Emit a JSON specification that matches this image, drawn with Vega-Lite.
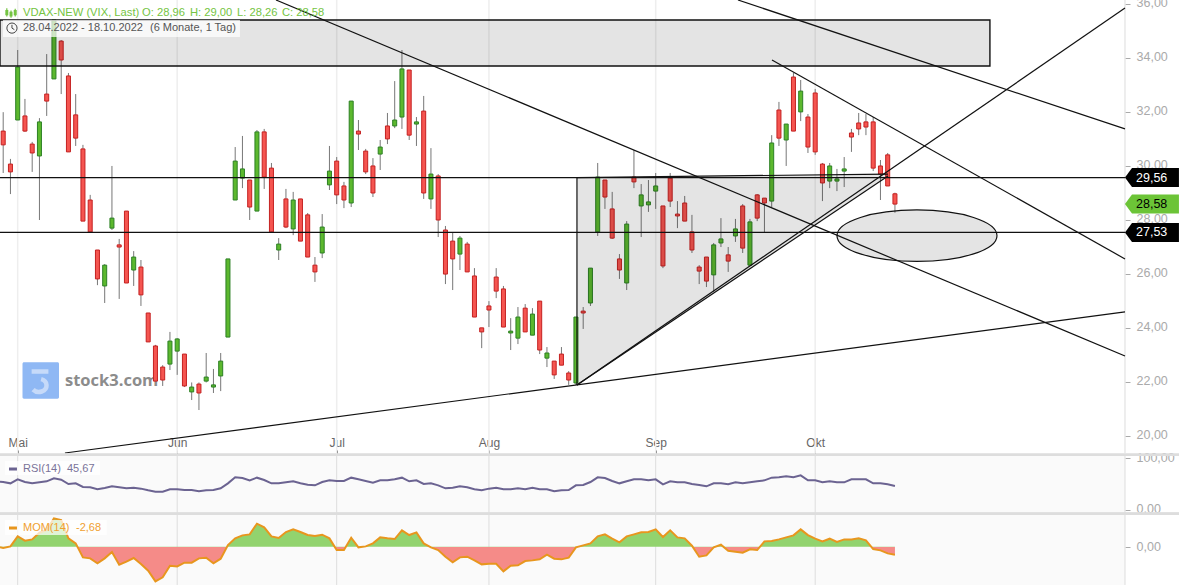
{"$schema":"https://vega.github.io/schema/vega-lite/v6.json","width":1179,"height":585,"padding":0,"autosize":{"type":"none"},"background":"white",
"config":{"view":{"stroke":null},"font":"Liberation Sans","axis":{"title":null},"scale":{"continuousPadding":0}},
"datasets":{
"candles":[
{"t":0,"o":31.28,"h":31.98,"l":29.73,"c":30.77},{"t":1,"o":30.06,"h":30.25,"l":28.95,"c":29.77},{"t":2,"o":31.69,"h":34.28,"l":31.69,"c":33.65},{"t":3,"o":31.84,"h":32.47,"l":31.25,"c":31.28},{"t":4,"o":30.8,"h":30.88,"l":29.77,"c":30.47},{"t":5,"o":30.36,"h":31.76,"l":27.99,"c":31.62},{"t":6,"o":32.65,"h":34.13,"l":31.84,"c":32.39},{"t":7,"o":33.21,"h":35.39,"l":33.21,"c":35.39},{"t":8,"o":34.61,"h":34.65,"l":32.65,"c":33.91},{"t":9,"o":33.32,"h":33.43,"l":30.51,"c":30.51},
{"t":10,"o":31.88,"h":32.65,"l":30.73,"c":31.02},{"t":11,"o":30.62,"h":30.77,"l":27.95,"c":27.95},{"t":12,"o":28.73,"h":28.92,"l":27.55,"c":27.55},{"t":13,"o":26.88,"h":26.88,"l":25.58,"c":25.81},{"t":14,"o":25.55,"h":26.36,"l":24.92,"c":26.32},{"t":15,"o":27.69,"h":29.99,"l":27.62,"c":28.06},{"t":16,"o":27.07,"h":27.29,"l":25.07,"c":26.99},{"t":17,"o":28.32,"h":28.32,"l":25.66,"c":25.66},{"t":18,"o":26.14,"h":26.84,"l":25.55,"c":26.62},{"t":19,"o":26.25,"h":26.51,"l":24.81,"c":25.22},
{"t":20,"o":24.55,"h":24.55,"l":23.48,"c":23.48},{"t":21,"o":23.33,"h":23.37,"l":22.03,"c":22.03},{"t":22,"o":22.55,"h":22.62,"l":21.85,"c":22.07},{"t":23,"o":22.66,"h":23.85,"l":22.44,"c":23.51},{"t":24,"o":23.14,"h":23.62,"l":22.26,"c":23.59},{"t":25,"o":23.03,"h":23.03,"l":21.81,"c":21.85},{"t":26,"o":21.63,"h":21.98,"l":21.33,"c":21.81},{"t":27,"o":21.92,"h":21.98,"l":20.96,"c":21.59},{"t":28,"o":22.03,"h":23.07,"l":21.98,"c":22.18},{"t":29,"o":21.81,"h":22.48,"l":21.59,"c":21.89},
{"t":30,"o":22.22,"h":23.07,"l":21.66,"c":22.77},{"t":31,"o":23.66,"h":26.55,"l":23.66,"c":26.55},{"t":32,"o":28.73,"h":30.69,"l":28.73,"c":30.17},{"t":33,"o":29.54,"h":31.1,"l":29.17,"c":29.88},{"t":34,"o":29.47,"h":29.47,"l":27.99,"c":28.47},{"t":35,"o":28.32,"h":31.32,"l":28.32,"c":31.25},{"t":36,"o":31.25,"h":31.36,"l":29.14,"c":29.58},{"t":37,"o":29.91,"h":30.1,"l":27.51,"c":27.55},{"t":38,"o":26.88,"h":27.32,"l":26.51,"c":27.1},{"t":39,"o":28.77,"h":29.14,"l":27.69,"c":27.73},
{"t":40,"o":27.66,"h":29.03,"l":27.43,"c":28.73},{"t":41,"o":28.77,"h":28.77,"l":27.21,"c":27.21},{"t":42,"o":28.18,"h":28.25,"l":26.62,"c":26.62},{"t":43,"o":26.32,"h":26.62,"l":25.7,"c":26.07},{"t":44,"o":26.77,"h":28.21,"l":26.58,"c":27.73},{"t":45,"o":29.29,"h":30.73,"l":29.1,"c":29.8},{"t":46,"o":30.17,"h":30.32,"l":28.58,"c":28.92},{"t":47,"o":29.25,"h":29.4,"l":28.43,"c":28.73},{"t":48,"o":28.62,"h":32.39,"l":28.47,"c":32.39},{"t":49,"o":31.28,"h":31.69,"l":30.58,"c":31.17},
{"t":50,"o":30.54,"h":30.62,"l":29.69,"c":29.77},{"t":51,"o":29.99,"h":30.28,"l":28.84,"c":28.99},{"t":52,"o":30.43,"h":30.95,"l":29.84,"c":30.69},{"t":53,"o":31.47,"h":31.95,"l":30.8,"c":30.99},{"t":54,"o":31.47,"h":33.13,"l":31.39,"c":31.69},{"t":55,"o":31.8,"h":34.28,"l":31.36,"c":33.58},{"t":56,"o":33.54,"h":33.54,"l":30.95,"c":31.13},{"t":57,"o":31.54,"h":31.8,"l":30.73,"c":31.62},{"t":58,"o":32.02,"h":32.58,"l":28.77,"c":28.99},{"t":59,"o":28.77,"h":30.65,"l":28.4,"c":29.69},
{"t":60,"o":29.62,"h":29.69,"l":27.36,"c":27.99},{"t":61,"o":27.62,"h":27.77,"l":25.62,"c":25.99},{"t":62,"o":27.21,"h":27.51,"l":25.4,"c":26.55},{"t":63,"o":26.73,"h":27.4,"l":26.14,"c":27.32},{"t":64,"o":27.1,"h":27.18,"l":26.07,"c":26.07},{"t":65,"o":25.92,"h":26.21,"l":24.4,"c":24.4},{"t":66,"o":24,"h":24,"l":23.25,"c":23.85},{"t":67,"o":24.81,"h":24.99,"l":24.03,"c":24.66},{"t":68,"o":25.88,"h":26.21,"l":25.1,"c":25.36},{"t":69,"o":25.44,"h":25.55,"l":24.03,"c":24.03},
{"t":70,"o":23.81,"h":24.36,"l":23.18,"c":23.88},{"t":71,"o":23.62,"h":24.77,"l":23.4,"c":24.4},{"t":72,"o":24.73,"h":24.88,"l":23.85,"c":23.85},{"t":73,"o":23.73,"h":24.73,"l":23.73,"c":24.51},{"t":74,"o":24.99,"h":24.99,"l":23.03,"c":23.18},{"t":75,"o":22.88,"h":23.29,"l":22.55,"c":23.07},{"t":76,"o":22.77,"h":22.77,"l":22.11,"c":22.26},{"t":77,"o":23.03,"h":23.29,"l":22.62,"c":22.62},{"t":78,"o":22.33,"h":22.4,"l":21.89,"c":22.07},{"t":79,"o":21.96,"h":24.4,"l":21.89,"c":24.4},
{"t":80,"o":24.62,"h":24.77,"l":23.96,"c":24.55},{"t":81,"o":24.92,"h":26.21,"l":24.81,"c":26.21},{"t":82,"o":27.55,"h":30.1,"l":27.4,"c":29.58},{"t":83,"o":29.47,"h":29.47,"l":28.4,"c":28.84},{"t":84,"o":28.4,"h":29.03,"l":27.29,"c":27.32},{"t":85,"o":26.55,"h":26.73,"l":25.81,"c":26.14},{"t":86,"o":25.66,"h":27.95,"l":25.4,"c":27.84},{"t":87,"o":29.58,"h":30.58,"l":29.17,"c":29.4},{"t":88,"o":28.51,"h":29.32,"l":27.36,"c":28.92},{"t":89,"o":28.55,"h":29.47,"l":28.29,"c":28.66},
{"t":90,"o":29.06,"h":29.73,"l":28.4,"c":29.25},{"t":91,"o":28.51,"h":28.51,"l":26.21,"c":26.29},{"t":92,"o":29.54,"h":29.73,"l":28.47,"c":28.69},{"t":93,"o":28.21,"h":28.69,"l":27.69,"c":28.14},{"t":94,"o":28.62,"h":28.88,"l":27.95,"c":27.95},{"t":95,"o":27.55,"h":28.18,"l":26.77,"c":26.88},{"t":96,"o":26.25,"h":26.32,"l":25.62,"c":26.1},{"t":97,"o":26.62,"h":26.62,"l":25.51,"c":25.73},{"t":98,"o":25.96,"h":27.14,"l":25.33,"c":27.07},{"t":99,"o":27.14,"h":28.06,"l":26.99,"c":27.29},
{"t":100,"o":26.7,"h":26.99,"l":26.07,"c":26.47},{"t":101,"o":27.4,"h":28.03,"l":27.18,"c":27.66},{"t":102,"o":28.51,"h":28.58,"l":26.77,"c":26.95},{"t":103,"o":26.32,"h":28.03,"l":26.32,"c":27.92},{"t":104,"o":28.92,"h":28.95,"l":27.95,"c":28.06},{"t":105,"o":28.8,"h":28.8,"l":27.51,"c":28.62},{"t":106,"o":28.69,"h":31.13,"l":28.47,"c":30.84},{"t":107,"o":32.06,"h":32.36,"l":30.73,"c":31.02},{"t":108,"o":30.95,"h":31.54,"l":29.99,"c":31.54},{"t":109,"o":33.28,"h":33.43,"l":31.28,"c":31.28},
{"t":110,"o":31.99,"h":33.17,"l":31.65,"c":32.76},{"t":111,"o":31.8,"h":31.91,"l":30.47,"c":30.69},{"t":112,"o":32.69,"h":32.84,"l":30.4,"c":30.51},{"t":113,"o":30.06,"h":30.1,"l":28.69,"c":29.36},{"t":114,"o":29.43,"h":30.1,"l":29.17,"c":29.99},{"t":115,"o":29.43,"h":29.88,"l":29.06,"c":29.51},{"t":116,"o":29.8,"h":30.32,"l":29.21,"c":29.88},{"t":117,"o":31.21,"h":31.36,"l":30.51,"c":31.06},{"t":118,"o":31.58,"h":31.95,"l":31.13,"c":31.36},{"t":119,"o":31.62,"h":31.91,"l":31.13,"c":31.43},
{"t":120,"o":31.62,"h":31.8,"l":29.8,"c":29.91},{"t":121,"o":29.99,"h":30.21,"l":28.73,"c":29.69},{"t":122,"o":30.4,"h":30.47,"l":29.25,"c":29.25},{"t":123,"o":28.96,"h":29,"l":28.26,"c":28.58}],
"rsi":[{"t":-0.44,"v":54},{"t":0,"v":53.4},{"t":1,"v":50.8},{"t":2,"v":58.6},{"t":3,"v":53.4},{"t":4,"v":50.8},{"t":5,"v":52.8},{"t":6,"v":54.7},{"t":7,"v":60.5},{"t":8,"v":57.9},{"t":9,"v":49.5},{"t":10,"v":50.8},{"t":11,"v":43.7},{"t":12,"v":43},{"t":13,"v":39.2},{"t":14,"v":41.7},{"t":15,"v":45},{"t":16,"v":43},{"t":17,"v":41.1},{"t":18,"v":42.4},{"t":19,"v":40.5},{"t":20,"v":37.2},{"t":21,"v":34.6},{"t":22,"v":34.6},{"t":23,"v":39.2},{"t":24,"v":39.2},{"t":25,"v":37.9},{"t":26,"v":37.9},{"t":27,"v":35.3},{"t":28,"v":37.2},{"t":29,"v":37.9},{"t":30,"v":41.1},{"t":31,"v":50.8},{"t":32,"v":62.5},{"t":33,"v":61.2},{"t":34,"v":56.6},{"t":35,"v":61.8},{"t":36,"v":57.3},{"t":37,"v":50.8},{"t":38,"v":50.8},{"t":39,"v":52.8},{"t":40,"v":54.7},{"t":41,"v":50.8},{"t":42,"v":48.2},{"t":43,"v":46.9},{"t":44,"v":53.4},{"t":45,"v":56.6},{"t":46,"v":55.3},{"t":47,"v":55.3},{"t":48,"v":61.8},{"t":49,"v":58.6},{"t":50,"v":55.3},{"t":51,"v":52.1},{"t":52,"v":56.6},{"t":53,"v":56.6},{"t":54,"v":58.6},{"t":55,"v":61.8},{"t":56,"v":54.7},{"t":57,"v":56.6},{"t":58,"v":49.5},{"t":59,"v":50.8},{"t":60,"v":46.9},{"t":61,"v":41.1},{"t":62,"v":42.4},{"t":63,"v":45},{"t":64,"v":43},{"t":65,"v":39.2},{"t":66,"v":37.2},{"t":67,"v":40.5},{"t":68,"v":42.4},{"t":69,"v":39.2},{"t":70,"v":39.2},{"t":71,"v":41.1},{"t":72,"v":39.2},{"t":73,"v":42.4},{"t":74,"v":39.2},{"t":75,"v":39.2},{"t":76,"v":35.3},{"t":77,"v":37.2},{"t":78,"v":37.9},{"t":79,"v":46.9},{"t":80,"v":47.6},{"t":81,"v":53.4},{"t":82,"v":62.5},{"t":83,"v":61.2},{"t":84,"v":55.3},{"t":85,"v":50.8},{"t":86,"v":54.7},{"t":87,"v":58.6},{"t":88,"v":58.6},{"t":89,"v":56.6},{"t":90,"v":58.6},{"t":91,"v":48.9},{"t":92,"v":54.7},{"t":93,"v":52.8},{"t":94,"v":52.8},{"t":95,"v":49.5},{"t":96,"v":47.6},{"t":97,"v":45},{"t":98,"v":50.8},{"t":99,"v":50.8},{"t":100,"v":48.9},{"t":101,"v":52.8},{"t":102,"v":50.8},{"t":103,"v":52.8},{"t":104,"v":54.7},{"t":105,"v":56.6},{"t":106,"v":61.8},{"t":107,"v":62.5},{"t":108,"v":64.4},{"t":109,"v":62.5},{"t":110,"v":66.3},{"t":111,"v":56.6},{"t":112,"v":56.6},{"t":113,"v":52.8},{"t":114,"v":54.7},{"t":115,"v":52.8},{"t":116,"v":52.8},{"t":117,"v":58.6},{"t":118,"v":58.6},{"t":119,"v":58.6},{"t":120,"v":50.8},{"t":121,"v":50.8},{"t":122,"v":48.9},{"t":123,"v":45.67}],
"mom":[{"t":-0.44,"v":-0.2},{"t":0,"v":-0.44},{"t":1,"v":0.11},{"t":2,"v":3.44},{"t":3,"v":2},{"t":4,"v":2.44},{"t":5,"v":4.67},{"t":6,"v":5.56},{"t":7,"v":9.44},{"t":8,"v":8.89},{"t":9,"v":2.78},{"t":10,"v":1.11},{"t":11,"v":-3.56},{"t":12,"v":-3.89},{"t":13,"v":-5.56},{"t":14,"v":-3.89},{"t":15,"v":-1.78},{"t":16,"v":-6},{"t":17,"v":-5},{"t":18,"v":-3.78},{"t":19,"v":-5.78},{"t":20,"v":-8},{"t":21,"v":-11.56},{"t":22,"v":-10.22},{"t":23,"v":-6.33},{"t":24,"v":-6.56},{"t":25,"v":-5.33},{"t":26,"v":-5.33},{"t":27,"v":-3.89},{"t":28,"v":-3.67},{"t":29,"v":-5.56},{"t":30,"v":-4},{"t":31,"v":0.56},{"t":32,"v":2.78},{"t":33,"v":3.78},{"t":34,"v":4.11},{"t":35,"v":7.67},{"t":36,"v":6.44},{"t":37,"v":3.44},{"t":38,"v":2.89},{"t":39,"v":4.89},{"t":40,"v":5.78},{"t":41,"v":4.89},{"t":42,"v":3.89},{"t":43,"v":3.56},{"t":44,"v":4},{"t":45,"v":2.78},{"t":46,"v":-1.11},{"t":47,"v":-1.11},{"t":48,"v":3},{"t":49,"v":-0.22},{"t":50,"v":0.11},{"t":51,"v":1.11},{"t":52,"v":3.11},{"t":53,"v":2.78},{"t":54,"v":2.56},{"t":55,"v":5.44},{"t":56,"v":3.89},{"t":57,"v":4.78},{"t":58,"v":1.11},{"t":59,"v":-0.22},{"t":60,"v":-1.11},{"t":61,"v":-3.33},{"t":62,"v":-5.22},{"t":63,"v":-3.56},{"t":64,"v":-3.33},{"t":65,"v":-4.56},{"t":66,"v":-5.89},{"t":67,"v":-5.67},{"t":68,"v":-5.67},{"t":69,"v":-8.22},{"t":70,"v":-6.33},{"t":71,"v":-6.22},{"t":72,"v":-4.78},{"t":73,"v":-4.56},{"t":74,"v":-4.22},{"t":75,"v":-2.67},{"t":76,"v":-4},{"t":77,"v":-4.22},{"t":78,"v":-3.67},{"t":79,"v":-0.22},{"t":80,"v":0.44},{"t":81,"v":1.11},{"t":82,"v":3.44},{"t":83,"v":4.11},{"t":84,"v":2.67},{"t":85,"v":1.44},{"t":86,"v":3.44},{"t":87,"v":4.11},{"t":88,"v":4.78},{"t":89,"v":4.89},{"t":90,"v":5.78},{"t":91,"v":3.22},{"t":92,"v":5.44},{"t":93,"v":3.11},{"t":94,"v":2.78},{"t":95,"v":0.33},{"t":96,"v":-3.33},{"t":97,"v":-2.89},{"t":98,"v":-0.22},{"t":99,"v":0.67},{"t":100,"v":-1.33},{"t":101,"v":-1.67},{"t":102,"v":-2},{"t":103,"v":-0.89},{"t":104,"v":-1.11},{"t":105,"v":1.78},{"t":106,"v":1.89},{"t":107,"v":2.44},{"t":108,"v":3.11},{"t":109,"v":3.78},{"t":110,"v":5.78},{"t":111,"v":3.89},{"t":112,"v":2.67},{"t":113,"v":1.78},{"t":114,"v":2.67},{"t":115,"v":1.56},{"t":116,"v":2.44},{"t":117,"v":2.44},{"t":118,"v":2.78},{"t":119,"v":2.11},{"t":120,"v":-0.78},{"t":121,"v":-1.22},{"t":122,"v":-2.22},{"t":123,"v":-2.68}],
"lines":[{"id":"A","t":37.63,"v":36.13},{"id":"A","t":154.73,"v":22.96},{"id":"B","t":101.35,"v":36.13},{"id":"B","t":154.73,"v":31.36},{"id":"C","t":106.04,"v":33.91},{"id":"C","t":154.73,"v":26.55},{"id":"D","t":8.52,"v":19.37},{"id":"D","t":154.73,"v":24.59},{"id":"E","t":79.14,"v":21.89},{"id":"E","t":154.73,"v":35.83},{"id":"T1","t":79.14,"v":29.56},{"id":"T1","t":122.04,"v":29.69},{"id":"T2","t":79.14,"v":21.89},{"id":"T2","t":122.04,"v":29.62},{"id":"T3","t":79.14,"v":21.89},{"id":"T3","t":79.14,"v":29.56},{"id":"H1","t":-0.44,"v":29.56},{"id":"H1","t":154.73,"v":29.56},{"id":"H2","t":-0.44,"v":27.53},{"id":"H2","t":154.73,"v":27.53}]
},
"encoding":{"x":{"field":"t","type":"quantitative","scale":{"domain":[-0.44,162.18],"range":[0,1179],"nice":false,"zero":false,"padding":0}}},
"resolve":{"scale":{"y":"independent"},"axis":{"y":"independent"}},
"layer":[
{"encoding":{"y":{"field":"v","type":"quantitative","scale":{"domain":[19.37,36.13],"range":[453,0],"nice":false,"zero":false}}},
"layer":[
{"data":{"values":[{"v":20},{"v":22},{"v":24},{"v":26},{"v":28},{"v":30},{"v":32},{"v":34},{"v":36}]},"mark":{"type":"rule","color":"#eeeeee","strokeWidth":1.5},
 "encoding":{"x":{"datum":-0.44,"type":"quantitative"},"x2":{"datum":154.73},
 "y":{"field":"v","type":"quantitative","scale":{"domain":[19.37,36.13],"range":[453,0],"nice":false,"zero":false},"axis":{"title":null,"orient":"right","offset":-54,"values":[20,22,24,26,28,30,32,34,36],"grid":false,"domain":false,"tickSize":5,"tickColor":"#aaaaaa","labelColor":"#aaaaaa","labelFontSize":12.5,"labelPadding":6,"labelOffset":-1,"labelOverlap":false,"labelExpr":"replace(format(datum.value,'.2f'),'.',',')"}}}},
{"data":{"values":[{"t":2,"v":36.13,"v2":19.37},{"t":24,"v":36.13,"v2":19.37},{"t":46,"v":36.13,"v2":19.37},{"t":67,"v":36.13,"v2":19.37},{"t":90,"v":36.13,"v2":19.37},{"t":112,"v":36.13,"v2":19.37}]},"mark":{"type":"rule","color":"#eeeeee","strokeWidth":1.5},
 "encoding":{"x":{"field":"t","type":"quantitative","axis":{"title":null,"orient":"bottom","offset":-135,"values":[2,24,46,67,90,112],"grid":false,"domain":false,"tickSize":3,"tickColor":"#555555","labelColor":"#666666","labelFontSize":12,"labelPadding":-16,"labelOverlap":false,"labelFlush":false,"labelExpr":"datum.value==2?'Mai':datum.value==24?'Jun':datum.value==46?'Jul':datum.value==67?'Aug':datum.value==90?'Sep':'Okt'"}},"y2":{"field":"v2"}}},
{"data":{"values":[{"t":154.73,"v":36.13,"v2":19.37}]},"mark":{"type":"rule","color":"#dddddd","strokeWidth":1},"encoding":{"y2":{"field":"v2"}}},
{"data":{"values":[{"t":5.18,"v":22.05}]},"mark":{"type":"point","filled":true,"opacity":1,"fill":"#8fb8f4","stroke":null,"size":1332,"shape":"M-0.92,-1H0.92A0.08,0.08,0,0,1,1,-0.92V0.92A0.08,0.08,0,0,1,0.92,1H-0.92A0.08,0.08,0,0,1,-1,0.92V-0.92A0.08,0.08,0,0,1,-0.92,-1Z"}},
{"data":{"values":[{"t":5.18,"v":22.05}]},"mark":{"type":"point","filled":false,"opacity":1,"stroke":"#c6daf9","strokeWidth":4.5,"size":1332,"shape":"M-0.5,-0.5H0.42M0.02,-0.08A0.42,0.36,0,1,1,-0.42,0.5"}},
{"data":{"values":[{"t":8.52,"v":22.03,"label":"stock3.com"}]},"mark":{"type":"text","align":"left","baseline":"middle","font":"Open Sans","fontWeight":"bold","fontSize":16.5,"color":"#8c8c8c"},"encoding":{"text":{"field":"label"}}},
{"data":{"name":"candles"},"mark":{"type":"rule","color":"#777777","strokeWidth":1},"encoding":{"y":{"field":"h","type":"quantitative"},"y2":{"field":"l"}}},
{"data":{"name":"candles"},"mark":{"type":"bar","orient":"vertical","size":4,"strokeWidth":1},
 "encoding":{"y":{"field":"o","type":"quantitative"},"y2":{"field":"c"},
 "fill":{"condition":{"test":"datum.c>=datum.o","value":"#5cb82e"},"value":"#f55550"},
 "stroke":{"condition":{"test":"datum.c>=datum.o","value":"#2c8024"},"value":"#c42020"}}},
{"data":{"values":[{"t":-0.44,"t2":136.1,"v":35.39,"v2":33.69}]},"mark":{"type":"rect","fill":"#000000","fillOpacity":0.105,"stroke":"#111111","strokeWidth":1.4,"clip":true},"encoding":{"x2":{"field":"t2"},"y2":{"field":"v2"}}},
{"data":{"values":[{"t":79.14,"v":29.56,"v2":21.89},{"t":122.04,"v":29.69,"v2":29.62}]},"mark":{"type":"area","fill":"#000000","fillOpacity":0.105,"stroke":null},"encoding":{"y2":{"field":"v2"}}},
{"data":{"values":[{"t":126.04,"v":27.41}]},"mark":{"type":"point","filled":true,"opacity":1,"fill":"#000000","fillOpacity":0.105,"stroke":"#111111","strokeWidth":1.2,"size":25600,"shape":"M-1,0A1,0.322,0,1,1,1,0A1,0.322,0,1,1,-1,0Z"}},
{"data":{"name":"lines"},"mark":{"type":"line","color":"#111111","strokeWidth":1.2,"clip":true},"encoding":{"detail":{"field":"id"},"order":{"field":"v"}}},
{"data":{"values":[{"t":-0.03,"t2":32.66,"v":35.39,"v2":34.76}]},"mark":{"type":"rect","fill":"#ffffff","opacity":0.72},"encoding":{"x2":{"field":"t2"},"y2":{"field":"v2"}}},
{"data":{"values":[{"t":2.73,"v":35.65,"label":"VDAX-NEW (VIX, Last)"},{"t":19.15,"v":35.65,"label":"O: 28,96"},{"t":25.77,"v":35.65,"label":"H: 29,00"},{"t":32.25,"v":35.65,"label":"L: 28,26"},{"t":38.46,"v":35.65,"label":"C: 28,58"}]},"mark":{"type":"text","align":"left","baseline":"middle","fontSize":11.2,"color":"#74c442"},"encoding":{"text":{"field":"label"}}},
{"data":{"values":[{"t":2.73,"v":35.09,"label":"28.04.2022 - 18.10.2022"},{"t":20.25,"v":35.09,"label":"(6 Monate, 1 Tag)"}]},"mark":{"type":"text","align":"left","baseline":"middle","fontSize":11,"color":"#555555"},"encoding":{"text":{"field":"label"}}},
{"data":{"values":[{"t":1.21,"v":35.09}]},"mark":{"type":"point","filled":false,"opacity":1,"stroke":"#444444","strokeWidth":1,"size":144,"shape":"M-0.85,0A0.85,0.85,0,1,1,0.85,0A0.85,0.85,0,1,1,-0.85,0M0,-0.55V0L0.4,0.25"}},
{"data":{"values":[{"t":1.08,"v":35.65}]},"mark":{"type":"point","filled":false,"opacity":1,"stroke":"#74c442","strokeWidth":1.2,"size":144,"shape":"M-0.7,-0.8V0.6M0,-0.4V0.8M0.7,-0.7V0.6M-0.85,-0.4H-0.55V0.3H-0.85ZM-0.15,-0.1H0.15V0.5H-0.15ZM0.55,-0.4H0.85V0.3H0.55Z"}},
{"data":{"values":[{"t":-0.44,"t2":162.2,"v":19.36,"v2":19.26}]},"mark":{"type":"rect","fill":"#dddddd"},"encoding":{"x2":{"field":"t2"},"y2":{"field":"v2"}}},
{"data":{"values":[{"t":158.45,"v":29.56,"k":"a"},{"t":158.45,"v":28.58,"k":"b"},{"t":158.45,"v":27.53,"k":"a"}]},"mark":{"type":"point","filled":true,"opacity":1,"stroke":null,"size":2916,"shape":"M-1,0L-0.74,-0.352H1V0.352H-0.74Z"},"encoding":{"fill":{"condition":{"test":"datum.k=='b'","value":"#6cc437"},"value":"#000000"}}},
{"data":{"values":[{"t":156.25,"v":29.56,"label":"29,56","k":"a"},{"t":156.25,"v":28.58,"label":"28,58","k":"b"},{"t":156.25,"v":27.53,"label":"27,53","k":"a"}]},"mark":{"type":"text","align":"left","baseline":"middle","fontSize":12.5},"encoding":{"text":{"field":"label"},"color":{"condition":{"test":"datum.k=='b'","value":"#000000"},"value":"#ffffff"}}}
]},
{"encoding":{"y":{"field":"v","type":"quantitative","scale":{"domain":[-12.77,10.57],"range":[585,515],"nice":false,"zero":false}}},
"layer":[
{"data":{"values":[{"t":-0.44,"t2":154.73,"v":30.23,"v2":-12.77}]},"mark":{"type":"rect","fill":"#fafafa"},"encoding":{"x2":{"field":"t2"},"y2":{"field":"v2"}}},
{"data":{"values":[{"t":2,"v":30.23,"v2":-12.77},{"t":24,"v":30.23,"v2":-12.77},{"t":46,"v":30.23,"v2":-12.77},{"t":67,"v":30.23,"v2":-12.77},{"t":90,"v":30.23,"v2":-12.77},{"t":112,"v":30.23,"v2":-12.77},{"t":154.73,"v":30.23,"v2":-12.77}]},"mark":{"type":"rule","color":"#dddddd","strokeWidth":1},"encoding":{"y2":{"field":"v2"}}},
{"data":{"values":[{"v":0}]},"mark":{"type":"rule","color":"#a8d88a","strokeWidth":1,"strokeDash":[2,2]},
 "encoding":{"x":{"datum":-0.44,"type":"quantitative"},"x2":{"datum":154.73},
 "y":{"field":"v","type":"quantitative","axis":{"title":null,"orient":"right","offset":-54,"values":[0],"grid":false,"domain":false,"tickSize":5,"tickColor":"#aaaaaa","labelColor":"#aaaaaa","labelFontSize":12.5,"labelPadding":6,"labelExpr":"replace(format(datum.value,'.2f'),'.',',')"}}}},
{"data":{"name":"mom"},"mark":{"type":"area","stroke":null,"fill":{"gradient":"linear","x1":0,"y1":0,"x2":0,"y2":1,"stops":[{"offset":0,"color":"#92d36e"},{"offset":0.4495,"color":"#92d36e"},{"offset":0.4495,"color":"#f58b88"},{"offset":1,"color":"#f58b88"}]}},"encoding":{"y2":{"datum":0}}},
{"data":{"name":"mom"},"mark":{"type":"line","color":"#e8961e","strokeWidth":2}},
{"data":{"values":[{"t":0.25,"t2":14.3,"v":8.9,"v2":3.9}]},"mark":{"type":"rect","fill":"#ffffff","opacity":0.72},"encoding":{"x2":{"field":"t2"},"y2":{"field":"v2"}}},
{"data":{"values":[{"t":0.8,"t2":1.9,"v":6.23}]},"mark":{"type":"rule","color":"#e8961e","strokeWidth":3},"encoding":{"x2":{"field":"t2"}}},
{"data":{"values":[{"t":2.73,"v":6.23,"label":"MOM(14)"},{"t":10.04,"v":6.23,"label":"-2,68"}]},"mark":{"type":"text","align":"left","baseline":"middle","fontSize":11,"color":"#f0a030"},"encoding":{"text":{"field":"label"}}},
{"data":{"values":[{"t":-0.44,"t2":162.2,"v":11.47,"v2":10.67}]},"mark":{"type":"rect","fill":"#dddddd"},"encoding":{"x2":{"field":"t2"},"y2":{"field":"v2"}}}
]},
{"encoding":{"y":{"field":"v","type":"quantitative","scale":{"domain":[0,100],"range":[509.5,458],"nice":false,"zero":false}}},
"layer":[
{"data":{"values":[{"v":0},{"v":100}]},"mark":{"type":"rule","color":"#dddddd","strokeWidth":1},
 "encoding":{"x":{"datum":-0.44,"type":"quantitative"},"x2":{"datum":154.73},
 "y":{"field":"v","type":"quantitative","axis":{"title":null,"orient":"right","offset":-54,"values":[0,100],"grid":false,"domain":false,"tickSize":5,"tickColor":"#aaaaaa","labelColor":"#aaaaaa","labelFontSize":12.5,"labelPadding":6,"labelOffset":-1,"labelExpr":"replace(format(datum.value,'.2f'),'.',',')"}}}},
{"data":{"values":[{"v":70}]},"mark":{"type":"rule","color":"#a8d88a","strokeWidth":1,"strokeDash":[2,2]},"encoding":{"x":{"datum":-0.44,"type":"quantitative"},"x2":{"datum":154.73}}},
{"data":{"values":[{"v":30}]},"mark":{"type":"rule","color":"#ff9e9e","strokeWidth":1,"strokeDash":[2,2]},"encoding":{"x":{"datum":-0.44,"type":"quantitative"},"x2":{"datum":154.73}}},
{"data":{"name":"rsi"},"mark":{"type":"line","color":"#6b6391","strokeWidth":2}},
{"data":{"values":[{"t":0.25,"t2":13.35,"v":94.2,"v2":67}]},"mark":{"type":"rect","fill":"#ffffff","opacity":0.72},"encoding":{"x2":{"field":"t2"},"y2":{"field":"v2"}}},
{"data":{"values":[{"t":0.8,"t2":1.9,"v":78.6}]},"mark":{"type":"rule","color":"#6b6391","strokeWidth":3},"encoding":{"x2":{"field":"t2"}}},
{"data":{"values":[{"t":2.73,"v":78.6,"label":"RSI(14)"},{"t":8.8,"v":78.6,"label":"45,67"}]},"mark":{"type":"text","align":"left","baseline":"middle","fontSize":11,"color":"#7a7399"},"encoding":{"text":{"field":"label"}}},
{"data":{"values":[{"t":-0.44,"t2":162.2,"v":-5.8,"v2":-10.5}]},"mark":{"type":"rect","fill":"#dddddd"},"encoding":{"x2":{"field":"t2"},"y2":{"field":"v2"}}}
]}
]}
